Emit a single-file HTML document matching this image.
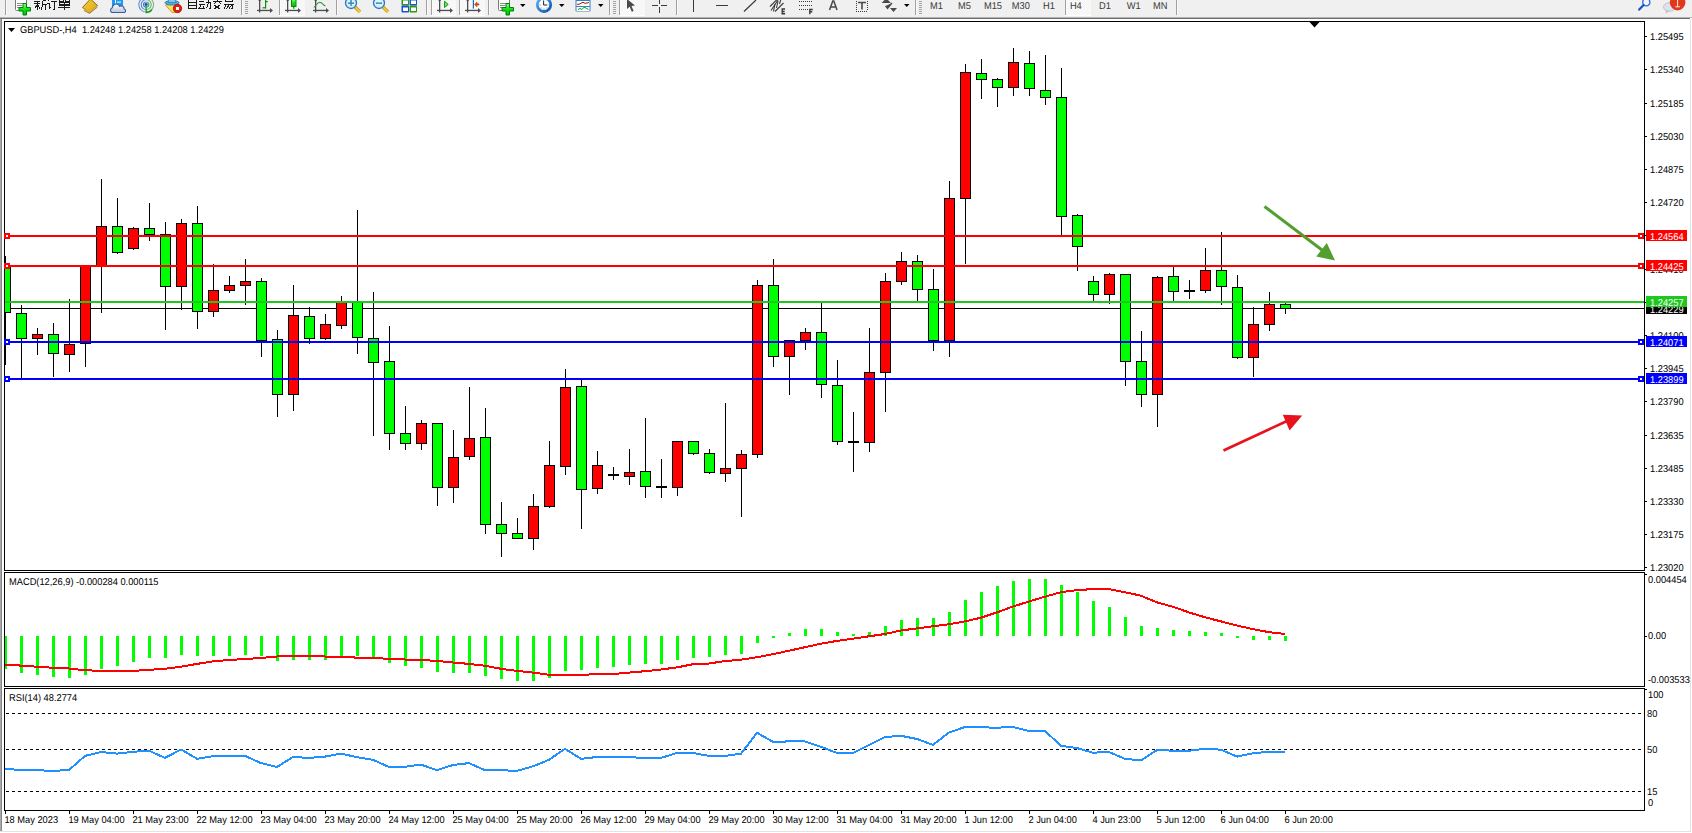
<!DOCTYPE html><html><head><meta charset="utf-8"><style>html,body{margin:0;padding:0;width:1692px;height:833px;overflow:hidden;background:#fff}svg{position:absolute;left:0;top:0;display:block}text{font-family:"Liberation Sans",sans-serif;letter-spacing:0px;text-rendering:geometricPrecision}</style></head><body>
<svg width="1692" height="833" viewBox="0 0 1692 833">
<rect x="0" y="0" width="1692" height="833" fill="#ffffff" shape-rendering="crispEdges"/>
<g shape-rendering="crispEdges">
<rect x="0" y="18" width="1" height="813" fill="#a8a8a8"/>
<rect x="1" y="18" width="1" height="813" fill="#868686"/>
<rect x="1690" y="19" width="1" height="813" fill="#e3e3e3"/>
<rect x="0" y="831" width="1691" height="1" fill="#e3e3e3"/>
</g>
<rect x="0" y="0" width="1692" height="17" fill="#f0f0f0" shape-rendering="crispEdges"/>
<defs><pattern id="chk" width="2" height="2" patternUnits="userSpaceOnUse"><rect width="2" height="2" fill="#f4f4f4"/><rect width="1" height="1" fill="#fbfbfb"/><rect x="1" y="1" width="1" height="1" fill="#fbfbfb"/></pattern><linearGradient id="gplus" x1="0" y1="0" x2="0" y2="1"><stop offset="0" stop-color="#9af79a"/><stop offset="0.5" stop-color="#11e011"/><stop offset="1" stop-color="#00c000"/></linearGradient><linearGradient id="gold" x1="0" y1="0" x2="1" y2="1"><stop offset="0" stop-color="#f5d23a"/><stop offset="1" stop-color="#d9a514"/></linearGradient><linearGradient id="cloud" x1="0" y1="0" x2="0" y2="1"><stop offset="0" stop-color="#ffffff"/><stop offset="1" stop-color="#b8c4dc"/></linearGradient><radialGradient id="lens" cx="0.5" cy="0.5" r="0.5"><stop offset="0" stop-color="#f4fcff"/><stop offset="1" stop-color="#bfe6f8"/></radialGradient></defs>
<g shape-rendering="crispEdges">
<rect x="0" y="17" width="1692" height="1" fill="#b4b4b4"/>
<rect x="0" y="18" width="1690" height="1" fill="#6e6e6e"/>
<rect x="280" y="0" width="25" height="15" fill="url(#chk)"/>
<rect x="279" y="15" width="26" height="1" fill="#ffffff"/>
<rect x="432" y="0" width="24" height="15" fill="url(#chk)"/>
<rect x="431" y="15" width="25" height="1" fill="#ffffff"/>
<rect x="460" y="0" width="25" height="15" fill="url(#chk)"/>
<rect x="459" y="15" width="26" height="1" fill="#ffffff"/>
<rect x="620" y="0" width="25" height="15" fill="url(#chk)"/>
<rect x="619" y="15" width="26" height="1" fill="#ffffff"/>
<rect x="1066" y="0" width="25" height="15" fill="url(#chk)"/>
<rect x="1065" y="15" width="26" height="1" fill="#ffffff"/>
<rect x="5" y="0" width="1" height="15" fill="#a0a0a0"/>
<rect x="6" y="0" width="1" height="15" fill="#fafafa"/>
<rect x="241" y="0" width="1" height="15" fill="#a0a0a0"/>
<rect x="242" y="0" width="1" height="15" fill="#fafafa"/>
<rect x="279" y="0" width="1" height="15" fill="#a0a0a0"/>
<rect x="280" y="0" width="1" height="15" fill="#fafafa"/>
<rect x="336" y="0" width="1" height="15" fill="#a0a0a0"/>
<rect x="337" y="0" width="1" height="15" fill="#fafafa"/>
<rect x="426" y="0" width="1" height="15" fill="#a0a0a0"/>
<rect x="427" y="0" width="1" height="15" fill="#fafafa"/>
<rect x="431" y="0" width="1" height="15" fill="#a0a0a0"/>
<rect x="432" y="0" width="1" height="15" fill="#fafafa"/>
<rect x="459" y="0" width="1" height="15" fill="#a0a0a0"/>
<rect x="460" y="0" width="1" height="15" fill="#fafafa"/>
<rect x="488" y="0" width="1" height="15" fill="#a0a0a0"/>
<rect x="489" y="0" width="1" height="15" fill="#fafafa"/>
<rect x="609" y="0" width="1" height="15" fill="#a0a0a0"/>
<rect x="610" y="0" width="1" height="15" fill="#fafafa"/>
<rect x="619" y="0" width="1" height="15" fill="#a0a0a0"/>
<rect x="620" y="0" width="1" height="15" fill="#fafafa"/>
<rect x="676" y="0" width="1" height="15" fill="#a0a0a0"/>
<rect x="677" y="0" width="1" height="15" fill="#fafafa"/>
<rect x="915" y="0" width="1" height="15" fill="#a0a0a0"/>
<rect x="916" y="0" width="1" height="15" fill="#fafafa"/>
<rect x="1065" y="0" width="1" height="15" fill="#a0a0a0"/>
<rect x="1066" y="0" width="1" height="15" fill="#fafafa"/>
<rect x="1176" y="0" width="1" height="15" fill="#a0a0a0"/>
<rect x="1177" y="0" width="1" height="15" fill="#fafafa"/>
<rect x="245" y="1" width="3" height="1" fill="#a4a4a4"/>
<rect x="245" y="3" width="3" height="1" fill="#a4a4a4"/>
<rect x="245" y="5" width="3" height="1" fill="#a4a4a4"/>
<rect x="245" y="7" width="3" height="1" fill="#a4a4a4"/>
<rect x="245" y="9" width="3" height="1" fill="#a4a4a4"/>
<rect x="245" y="11" width="3" height="1" fill="#a4a4a4"/>
<rect x="245" y="13" width="3" height="1" fill="#a4a4a4"/>
<rect x="613" y="1" width="3" height="1" fill="#a4a4a4"/>
<rect x="613" y="3" width="3" height="1" fill="#a4a4a4"/>
<rect x="613" y="5" width="3" height="1" fill="#a4a4a4"/>
<rect x="613" y="7" width="3" height="1" fill="#a4a4a4"/>
<rect x="613" y="9" width="3" height="1" fill="#a4a4a4"/>
<rect x="613" y="11" width="3" height="1" fill="#a4a4a4"/>
<rect x="613" y="13" width="3" height="1" fill="#a4a4a4"/>
<rect x="919" y="1" width="3" height="1" fill="#a4a4a4"/>
<rect x="919" y="3" width="3" height="1" fill="#a4a4a4"/>
<rect x="919" y="5" width="3" height="1" fill="#a4a4a4"/>
<rect x="919" y="7" width="3" height="1" fill="#a4a4a4"/>
<rect x="919" y="9" width="3" height="1" fill="#a4a4a4"/>
<rect x="919" y="11" width="3" height="1" fill="#a4a4a4"/>
<rect x="919" y="13" width="3" height="1" fill="#a4a4a4"/>
</g>
<rect x="15.5" y="-3.5" width="11" height="14" rx="1" fill="#fff" stroke="#7a7a7a" stroke-width="1"/>
<g stroke="#8a8a8a" stroke-width="1" shape-rendering="crispEdges"><line x1="17" y1="3.5" x2="24" y2="3.5"/><line x1="17" y1="5.5" x2="22" y2="5.5"/><line x1="17" y1="7.5" x2="21" y2="7.5"/></g>
<path d="M23,3.5 h3.5 v4 h4 v3.5 h-4 v4 h-3.5 v-4 h-4 v-3.5 h4 z" fill="url(#gplus)" stroke="#00800a" stroke-width="1"/>
<rect x="498.5" y="-3.5" width="11" height="14" rx="1" fill="#fff" stroke="#7a7a7a" stroke-width="1"/>
<g stroke="#8a8a8a" stroke-width="1" shape-rendering="crispEdges"><line x1="500" y1="3.5" x2="507" y2="3.5"/><line x1="500" y1="5.5" x2="505" y2="5.5"/><line x1="500" y1="7.5" x2="504" y2="7.5"/></g>
<path d="M506,3.5 h3.5 v4 h4 v3.5 h-4 v4 h-3.5 v-4 h-4 v-3.5 h4 z" fill="url(#gplus)" stroke="#00800a" stroke-width="1"/>
<path d="M34,1.5 h6 M34,3.5 h6 M37.5,1 v8.5 M34.5,8.5 l2.5,-3 M40,8.5 l-2,-3 M46,0.5 h-3.5 M42.5,0.5 v5 l-1.5,4 M42.5,4.5 h4 M45.5,4.5 v5" fill="none" stroke="#1a1a1a" stroke-width="1" shape-rendering="crispEdges"/>
<path d="M48,0.5 h1 M47,3.5 h2.5 v5 l1,-1 M51,1.5 h6 M54.5,1.5 v7.5 h-1.5" fill="none" stroke="#1a1a1a" stroke-width="1" shape-rendering="crispEdges"/>
<path d="M59.5,-0.5 h4 v2 h-4 z M65.5,-0.5 h3.5 v2 h-3.5 z M59.5,2.5 h10 v3 h-10 z M59.5,4 h10 M58,7.5 h12 M64.5,2.5 v7" fill="none" stroke="#1a1a1a" stroke-width="1" shape-rendering="crispEdges"/>
<path d="M188.5,0 v9 M196.5,0 v9 M188.5,2.5 h8 M188.5,5.5 h8 M188.5,8.5 h8 M188.5,-0.5 h8" fill="none" stroke="#1a1a1a" stroke-width="1" shape-rendering="crispEdges"/>
<path d="M199,1.5 h5 M198.5,4.5 h6 M201.5,4.5 l-2.5,4 h5 l-1,-2 M206,2.5 h4.5 v5.5 l-1,1 M208.5,0 v3 l-2,5.5" fill="none" stroke="#1a1a1a" stroke-width="1" shape-rendering="crispEdges"/>
<path d="M217.5,-0.5 v1 M213,1.5 h9 M215.5,2.5 l-2,2 M219.5,2.5 l2,2 M214,5 l6,4 M220,5 l-6,4" fill="none" stroke="#1a1a1a" stroke-width="1" shape-rendering="crispEdges"/>
<path d="M225.5,-0.5 h7 v2 h-7 z M224,4.5 h9 l-1,4 h-1.5 M226.5,4.5 l-2.5,4 M229,5 l-2.5,4 M231.5,5 l-2.5,3.5" fill="none" stroke="#1a1a1a" stroke-width="1" shape-rendering="crispEdges"/>
<path d="M82.5,7.5 L90.5,-1 L97.5,5.5 L89.5,12.8 Z" fill="url(#gold)" stroke="#9a6408" stroke-width="1"/>
<path d="M83.5,9 L89.5,12.5 L97,6.5" fill="none" stroke="#d8c070" stroke-width="1"/>
<path d="M84,10.5 L89.5,13.3 L97.5,7" fill="none" stroke="#a07010" stroke-width="0.9"/>
<rect x="112" y="-2" width="11" height="8" fill="#1a9af0"/><rect x="115" y="-2" width="1" height="8" fill="#fff"/><rect x="117" y="1.5" width="4" height="1.2" fill="#d8f0ff"/>
<path d="M111.8,12.5 A2.6,2.6 0 0 1 112.3,7.8 A3.8,3.8 0 0 1 119.6,6.4 A3,3 0 0 1 124.2,9 A1.9,1.9 0 0 1 124.6,12.5 Z" fill="url(#cloud)" stroke="#3e5c96" stroke-width="1.1"/>
<defs><linearGradient id="sig" x1="0" y1="0" x2="1" y2="0"><stop offset="0" stop-color="#2a6ad0"/><stop offset="0.55" stop-color="#7aa8d8"/><stop offset="1" stop-color="#4aa84a"/></linearGradient></defs>
<circle cx="146.2" cy="4.6" r="2.6" fill="none" stroke="url(#sig)" stroke-width="1.1" opacity="1"/>
<circle cx="146.2" cy="4.6" r="5.0" fill="none" stroke="url(#sig)" stroke-width="1.1" opacity="0.85"/>
<circle cx="146.2" cy="4.6" r="7.4" fill="none" stroke="url(#sig)" stroke-width="1.1" opacity="0.75"/>
<circle cx="146.2" cy="4.4" r="1.6" fill="#1a5ad0"/><path d="M146.2,5 V12.5 A7.4,7.4 0 0 0 152,9.5" fill="none" stroke="#18a018" stroke-width="1.3"/>
<path d="M165.5,5 L178,4 L178,12 L172,12.5 Z" fill="#f8e060" stroke="#d0a020" stroke-width="1"/>
<ellipse cx="172" cy="2.8" rx="7" ry="2.2" fill="#58b0e0" stroke="#2a80b8" stroke-width="1"/><path d="M168,2.5 A4,4 0 0 1 176,2.5 Z" fill="#80c8f0" stroke="#2a80b8" stroke-width="0.8"/>
<circle cx="177.5" cy="8.5" r="4.2" fill="#e02010" stroke="#b01000" stroke-width="0.8"/><rect x="176" y="7" width="3" height="3" fill="#fff"/>
<g fill="#4d4d4d"><rect x="259" y="-1" width="1.3" height="13.5"/><rect x="257" y="9.8" width="13" height="1.3"/><path d="M270,8 L273,10.45 L270,13 Z"/><circle cx="259.65" cy="0" r="1.2"/></g>
<g fill="#108a10"><rect x="265" y="-1" width="1.2" height="9.5"/><rect x="262.5" y="7.2" width="3" height="1.2"/><rect x="265" y="1" width="2.8" height="1.2"/></g>
<g fill="#4d4d4d"><rect x="287" y="-1" width="1.3" height="13.5"/><rect x="285" y="9.8" width="13" height="1.3"/><path d="M298,8 L301,10.45 L298,13 Z"/><circle cx="287.65" cy="0" r="1.2"/></g>
<rect x="291.5" y="-1" width="4.5" height="7.5" fill="url(#gplus)" stroke="#0a8a0a" stroke-width="1"/><rect x="293.2" y="6.5" width="1.2" height="2.3" fill="#0a8a0a"/>
<g fill="#4d4d4d"><rect x="315" y="-1" width="1.3" height="13.5"/><rect x="313" y="9.8" width="13" height="1.3"/><path d="M326,8 L329,10.45 L326,13 Z"/><circle cx="315.65" cy="0" r="1.2"/></g>
<path d="M314,7.5 C316,5 318,2 320,2.2 C322,2.5 323.5,5.5 325.5,6" fill="none" stroke="#2a9a2a" stroke-width="1.1"/>
<line x1="354.5" y1="6.5" x2="360" y2="11.8" stroke="#c89010" stroke-width="3.2"/>
<line x1="354.5" y1="6.5" x2="360" y2="11.8" stroke="#f0d840" stroke-width="1.6"/>
<circle cx="351" cy="3" r="5.5" fill="url(#lens)" stroke="#2a78c0" stroke-width="1.3"/>
<rect x="348" y="2.4" width="6" height="1.5" fill="#3a88b8"/>
<rect x="350.3" y="0" width="1.5" height="6" fill="#3a88b8"/>
<line x1="382.5" y1="6.5" x2="388" y2="11.8" stroke="#c89010" stroke-width="3.2"/>
<line x1="382.5" y1="6.5" x2="388" y2="11.8" stroke="#f0d840" stroke-width="1.6"/>
<circle cx="379" cy="3" r="5.5" fill="url(#lens)" stroke="#2a78c0" stroke-width="1.3"/>
<rect x="376" y="2.4" width="6" height="1.5" fill="#3a88b8"/>
<rect x="401.5" y="-1.5" width="7.5" height="7" rx="0.8" fill="#2a9a10"/>
<rect x="403" y="0.5" width="5" height="3.5" fill="#fff"/>
<rect x="409.5" y="-1.5" width="7.5" height="7" rx="0.8" fill="#1a50d8"/>
<rect x="411" y="0.5" width="5" height="3.5" fill="#fff"/>
<rect x="401.5" y="5.5" width="7.5" height="7" rx="0.8" fill="#1a50d8"/>
<rect x="403" y="7.5" width="5" height="3.5" fill="#fff"/>
<rect x="409.5" y="5.5" width="7.5" height="7" rx="0.8" fill="#2a9a10"/>
<rect x="411" y="7.5" width="5" height="3.5" fill="#fff"/>
<g fill="#4d4d4d"><rect x="439" y="-1" width="1.3" height="13.5"/><rect x="437" y="9.8" width="13" height="1.3"/><path d="M450,8 L453,10.45 L450,13 Z"/><circle cx="439.65" cy="0" r="1.2"/></g>
<path d="M444.5,1.2 L448.2,4.4 L444.5,7.5 Z" fill="#60e060" stroke="#10a010" stroke-width="1"/>
<g fill="#4d4d4d"><rect x="467" y="-1" width="1.3" height="13.5"/><rect x="465" y="9.8" width="13" height="1.3"/><path d="M478,8 L481,10.45 L478,13 Z"/><circle cx="467.65" cy="0" r="1.2"/></g>
<rect x="472.8" y="-1" width="1.2" height="9.6" fill="#1a6ab0"/><path d="M474.5,4.4 L477,2 L477,3.8 L479,3.8 L479,5 L477,5 L477,6.8 Z" fill="#e05010" stroke="#a03000" stroke-width="0.5"/>
<path d="M520,4 L525.5,4 L522.75,7 Z" fill="#000"/>
<path d="M559,4 L564.5,4 L561.75,7 Z" fill="#000"/>
<path d="M598,4 L603.5,4 L600.75,7 Z" fill="#000"/>
<path d="M904,4 L909.5,4 L906.75,7 Z" fill="#000"/>
<defs><linearGradient id="clk" x1="0" y1="0" x2="1" y2="1"><stop offset="0" stop-color="#5ab4ff"/><stop offset="1" stop-color="#0a50b0"/></linearGradient></defs><circle cx="544" cy="4.8" r="6.7" fill="#fbfbfb" stroke="url(#clk)" stroke-width="2.8"/><g fill="#888"><rect x="539.5" y="4.5" width="1" height="1"/><rect x="547.5" y="4.5" width="1" height="1"/><rect x="543.5" y="8.5" width="1" height="1"/><rect x="540.5" y="7.5" width="1" height="1"/><rect x="546.5" y="7.5" width="1" height="1"/></g>
<path d="M543.6,0.5 V5 H547" fill="none" stroke="#222" stroke-width="1"/>
<rect x="575.5" y="-1.5" width="15" height="13" rx="1" fill="#3a80c8"/><rect x="576.5" y="1" width="13" height="5" fill="#fff"/><rect x="576.5" y="7" width="13" height="4" fill="#fff"/>
<path d="M577,4.3 L579,4.3 L581,3.2 L583,2.2 L585,3.4 L587,3 L589,2.5" fill="none" stroke="#a02000" stroke-width="1"/>
<path d="M578,9.5 L580,8.5 L582,9.5 L584,7.2 L586,8 L588.5,9.5" fill="none" stroke="#10a010" stroke-width="1"/>
<path d="M627,-1 L627,9 L629.7,6.7 L631.8,11.8 L633.6,11 L631.5,6 L635,5.6 Z" fill="#4a4a4a"/>
<g fill="#3a3a3a" shape-rendering="crispEdges"><rect x="659" y="0" width="1" height="4"/><rect x="659" y="7" width="1" height="6"/><rect x="652" y="5" width="6" height="1"/><rect x="661" y="5" width="6" height="1"/></g>
<g fill="#3a3a3a" shape-rendering="crispEdges"><rect x="693" y="0" width="1.4" height="12"/><rect x="716" y="4.8" width="12" height="1.4"/></g>
<line x1="744" y1="11.5" x2="756" y2="0" stroke="#3a3a3a" stroke-width="1.2"/>
<g stroke="#3a3a3a" stroke-width="1.1" fill="none"><line x1="770" y1="6.5" x2="777" y2="-0.5"/><line x1="775" y1="11.5" x2="783.5" y2="3"/><line x1="771" y1="10.5" x2="778" y2="0"/><line x1="773.5" y1="11.5" x2="775" y2="4"/><line x1="776.5" y1="8" x2="778" y2="1"/><line x1="779.5" y1="4" x2="781" y2="-1"/></g>
<path d="M781.5,9 h3.6 M781.5,11.5 h3.2 M781.5,13.8 h3.6 M782.2,9 v5" fill="none" stroke="#3a3a3a" stroke-width="1.4"/>
<g fill="#3a3a3a"><rect x="799" y="1" width="1" height="1"/><rect x="801" y="1" width="1" height="1"/><rect x="803" y="1" width="1" height="1"/><rect x="805" y="1" width="1" height="1"/><rect x="807" y="1" width="1" height="1"/><rect x="809" y="1" width="1" height="1"/><rect x="811" y="1" width="1" height="1"/><rect x="799" y="5" width="1" height="1"/><rect x="801" y="5" width="1" height="1"/><rect x="803" y="5" width="1" height="1"/><rect x="805" y="5" width="1" height="1"/><rect x="807" y="5" width="1" height="1"/><rect x="809" y="5" width="1" height="1"/><rect x="811" y="5" width="1" height="1"/><rect x="799" y="9" width="1" height="1"/><rect x="801" y="9" width="1" height="1"/><rect x="803" y="9" width="1" height="1"/><rect x="805" y="9" width="1" height="1"/><rect x="807" y="9" width="1" height="1"/></g>
<path d="M809.8,9 v5.2 M809.2,9.5 h3.6 M809.2,11.8 h3" fill="none" stroke="#3a3a3a" stroke-width="1.4"/>
<path d="M829.5,10 L832.8,1 L833.8,1 L837,10 M831,7 h5" fill="none" stroke="#4a4a4a" stroke-width="1.5"/>
<g fill="#3a3a3a"><rect x="856" y="11" width="1" height="1"/><rect x="858" y="11" width="1" height="1"/><rect x="860" y="11" width="1" height="1"/><rect x="862" y="11" width="1" height="1"/><rect x="864" y="11" width="1" height="1"/><rect x="866" y="11" width="1" height="1"/><rect x="856" y="1" width="1" height="1"/><rect x="867" y="1" width="1" height="1"/><rect x="856" y="3" width="1" height="1"/><rect x="867" y="3" width="1" height="1"/><rect x="856" y="5" width="1" height="1"/><rect x="867" y="5" width="1" height="1"/><rect x="856" y="7" width="1" height="1"/><rect x="867" y="7" width="1" height="1"/><rect x="856" y="9" width="1" height="1"/><rect x="867" y="9" width="1" height="1"/></g>
<path d="M858,2.5 h8 M862,2.5 v7" fill="none" stroke="#4a4a4a" stroke-width="1.6"/>
<path d="M883,2.5 L886.3,-1 L889.5,2.5 Z M885.5,6 L887.5,8.5 L892,3" fill="#4a4a4a" stroke="#4a4a4a" stroke-width="1.2"/>
<path d="M890,8 L897,8 L893.5,12 Z" fill="#4a4a4a"/>
<text transform="matrix(0.94,0,0,1,929.9,8.5)" fill="#3a3a3a" font-size="9.9">M1</text>
<text transform="matrix(0.94,0,0,1,957.9,8.5)" fill="#3a3a3a" font-size="9.9">M5</text>
<text transform="matrix(0.94,0,0,1,983.9,8.5)" fill="#3a3a3a" font-size="9.9">M15</text>
<text transform="matrix(0.94,0,0,1,1011.8,8.5)" fill="#3a3a3a" font-size="9.9">M30</text>
<text transform="matrix(0.94,0,0,1,1043.0,8.5)" fill="#3a3a3a" font-size="9.9">H1</text>
<text transform="matrix(0.94,0,0,1,1069.8999999999999,8.5)" fill="#3a3a3a" font-size="9.9">H4</text>
<text transform="matrix(0.94,0,0,1,1099.0,8.5)" fill="#3a3a3a" font-size="9.9">D1</text>
<text transform="matrix(0.94,0,0,1,1126.7,8.5)" fill="#3a3a3a" font-size="9.9">W1</text>
<text transform="matrix(0.94,0,0,1,1153.0,8.5)" fill="#3a3a3a" font-size="9.9">MN</text>
<circle cx="1646.3" cy="2.2" r="3.6" fill="#f4f6ff" stroke="#2a6ad8" stroke-width="1.3"/><line x1="1643.6" y1="5" x2="1639.2" y2="9.6" stroke="#1a50c0" stroke-width="2.2" stroke-linecap="round"/>
<ellipse cx="1669.5" cy="7" rx="6" ry="4.3" fill="#dfe2ec" stroke="#bdbdbd" stroke-width="0.9"/><path d="M1665.5,10 L1666,13.8 L1669.5,10.8 Z" fill="#c4c4c4"/>
<circle cx="1677.6" cy="2.6" r="7.8" fill="#e0381a"/><path d="M1675.6,-2 h4 M1677.6,-2 v8.6 M1675.3,6.8 h4.6" fill="none" stroke="#fff" stroke-width="0.9"/>
<g shape-rendering="crispEdges" fill="none" stroke="#000" stroke-width="1">
<rect x="4.5" y="21.5" width="1640" height="549"/>
<rect x="4.5" y="572.5" width="1640" height="114"/>
<rect x="4.5" y="688.5" width="1640" height="122"/>
</g>
<g shape-rendering="crispEdges">
<rect x="1645" y="36" width="2" height="1" fill="#000"/>
<rect x="1645" y="69" width="2" height="1" fill="#000"/>
<rect x="1645" y="103" width="2" height="1" fill="#000"/>
<rect x="1645" y="136" width="2" height="1" fill="#000"/>
<rect x="1645" y="169" width="2" height="1" fill="#000"/>
<rect x="1645" y="202" width="2" height="1" fill="#000"/>
<rect x="1645" y="235" width="2" height="1" fill="#000"/>
<rect x="1645" y="269" width="2" height="1" fill="#000"/>
<rect x="1645" y="302" width="2" height="1" fill="#000"/>
<rect x="1645" y="335" width="2" height="1" fill="#000"/>
<rect x="1645" y="368" width="2" height="1" fill="#000"/>
<rect x="1645" y="401" width="2" height="1" fill="#000"/>
<rect x="1645" y="435" width="2" height="1" fill="#000"/>
<rect x="1645" y="468" width="2" height="1" fill="#000"/>
<rect x="1645" y="501" width="2" height="1" fill="#000"/>
<rect x="1645" y="534" width="2" height="1" fill="#000"/>
<rect x="1645" y="567" width="2" height="1" fill="#000"/>
</g>
<text transform="matrix(0.94,0,0,1,1650,40)" fill="#000" font-size="9.9">1.25495</text>
<text transform="matrix(0.94,0,0,1,1650,73)" fill="#000" font-size="9.9">1.25340</text>
<text transform="matrix(0.94,0,0,1,1650,107)" fill="#000" font-size="9.9">1.25185</text>
<text transform="matrix(0.94,0,0,1,1650,140)" fill="#000" font-size="9.9">1.25030</text>
<text transform="matrix(0.94,0,0,1,1650,173)" fill="#000" font-size="9.9">1.24875</text>
<text transform="matrix(0.94,0,0,1,1650,206)" fill="#000" font-size="9.9">1.24720</text>
<text transform="matrix(0.94,0,0,1,1650,239)" fill="#000" font-size="9.9">1.24565</text>
<text transform="matrix(0.94,0,0,1,1650,273)" fill="#000" font-size="9.9">1.24410</text>
<text transform="matrix(0.94,0,0,1,1650,306)" fill="#000" font-size="9.9">1.24255</text>
<text transform="matrix(0.94,0,0,1,1650,339)" fill="#000" font-size="9.9">1.24100</text>
<text transform="matrix(0.94,0,0,1,1650,372)" fill="#000" font-size="9.9">1.23945</text>
<text transform="matrix(0.94,0,0,1,1650,405)" fill="#000" font-size="9.9">1.23790</text>
<text transform="matrix(0.94,0,0,1,1650,439)" fill="#000" font-size="9.9">1.23635</text>
<text transform="matrix(0.94,0,0,1,1650,472)" fill="#000" font-size="9.9">1.23485</text>
<text transform="matrix(0.94,0,0,1,1650,505)" fill="#000" font-size="9.9">1.23330</text>
<text transform="matrix(0.94,0,0,1,1650,538)" fill="#000" font-size="9.9">1.23175</text>
<text transform="matrix(0.94,0,0,1,1650,571)" fill="#000" font-size="9.9">1.23020</text>
<g shape-rendering="crispEdges">
<rect x="5" y="308" width="1639" height="1" fill="#000"/>
</g>
<g shape-rendering="crispEdges">
<rect x="5" y="256" width="1" height="109" fill="#000"/>
<rect x="5" y="267" width="6" height="46" fill="#000"/>
<rect x="5" y="268" width="5" height="44" fill="#00ff00"/>
<rect x="21" y="305" width="1" height="73" fill="#000"/>
<rect x="16" y="313" width="11" height="26" fill="#000"/>
<rect x="17" y="314" width="9" height="24" fill="#00ff00"/>
<rect x="37" y="328" width="1" height="27" fill="#000"/>
<rect x="32" y="334" width="11" height="5" fill="#000"/>
<rect x="33" y="335" width="9" height="3" fill="#ff0000"/>
<rect x="53" y="323" width="1" height="54" fill="#000"/>
<rect x="48" y="334" width="11" height="20" fill="#000"/>
<rect x="49" y="335" width="9" height="18" fill="#00ff00"/>
<rect x="69" y="299" width="1" height="73" fill="#000"/>
<rect x="64" y="344" width="11" height="11" fill="#000"/>
<rect x="65" y="345" width="9" height="9" fill="#ff0000"/>
<rect x="85" y="266" width="1" height="101" fill="#000"/>
<rect x="80" y="266" width="11" height="78" fill="#000"/>
<rect x="81" y="267" width="9" height="76" fill="#ff0000"/>
<rect x="101" y="179" width="1" height="134" fill="#000"/>
<rect x="96" y="226" width="11" height="40" fill="#000"/>
<rect x="97" y="227" width="9" height="38" fill="#ff0000"/>
<rect x="117" y="198" width="1" height="56" fill="#000"/>
<rect x="112" y="226" width="11" height="27" fill="#000"/>
<rect x="113" y="227" width="9" height="25" fill="#00ff00"/>
<rect x="133" y="227" width="1" height="23" fill="#000"/>
<rect x="128" y="228" width="11" height="21" fill="#000"/>
<rect x="129" y="229" width="9" height="19" fill="#ff0000"/>
<rect x="149" y="203" width="1" height="38" fill="#000"/>
<rect x="144" y="228" width="11" height="7" fill="#000"/>
<rect x="145" y="229" width="9" height="5" fill="#00ff00"/>
<rect x="165" y="222" width="1" height="108" fill="#000"/>
<rect x="160" y="234" width="11" height="53" fill="#000"/>
<rect x="161" y="235" width="9" height="51" fill="#00ff00"/>
<rect x="181" y="219" width="1" height="91" fill="#000"/>
<rect x="176" y="223" width="11" height="64" fill="#000"/>
<rect x="177" y="224" width="9" height="62" fill="#ff0000"/>
<rect x="197" y="206" width="1" height="123" fill="#000"/>
<rect x="192" y="223" width="11" height="89" fill="#000"/>
<rect x="193" y="224" width="9" height="87" fill="#00ff00"/>
<rect x="213" y="264" width="1" height="53" fill="#000"/>
<rect x="208" y="290" width="11" height="22" fill="#000"/>
<rect x="209" y="291" width="9" height="20" fill="#ff0000"/>
<rect x="229" y="276" width="1" height="17" fill="#000"/>
<rect x="224" y="285" width="11" height="6" fill="#000"/>
<rect x="225" y="286" width="9" height="4" fill="#ff0000"/>
<rect x="245" y="259" width="1" height="46" fill="#000"/>
<rect x="240" y="281" width="11" height="5" fill="#000"/>
<rect x="241" y="282" width="9" height="3" fill="#ff0000"/>
<rect x="261" y="278" width="1" height="79" fill="#000"/>
<rect x="256" y="281" width="11" height="60" fill="#000"/>
<rect x="257" y="282" width="9" height="58" fill="#00ff00"/>
<rect x="277" y="330" width="1" height="87" fill="#000"/>
<rect x="272" y="339" width="11" height="56" fill="#000"/>
<rect x="273" y="340" width="9" height="54" fill="#00ff00"/>
<rect x="293" y="285" width="1" height="126" fill="#000"/>
<rect x="288" y="315" width="11" height="80" fill="#000"/>
<rect x="289" y="316" width="9" height="78" fill="#ff0000"/>
<rect x="309" y="307" width="1" height="37" fill="#000"/>
<rect x="304" y="316" width="11" height="23" fill="#000"/>
<rect x="305" y="317" width="9" height="21" fill="#00ff00"/>
<rect x="325" y="314" width="1" height="26" fill="#000"/>
<rect x="320" y="324" width="11" height="15" fill="#000"/>
<rect x="321" y="325" width="9" height="13" fill="#ff0000"/>
<rect x="341" y="296" width="1" height="33" fill="#000"/>
<rect x="336" y="302" width="11" height="24" fill="#000"/>
<rect x="337" y="303" width="9" height="22" fill="#ff0000"/>
<rect x="357" y="210" width="1" height="144" fill="#000"/>
<rect x="352" y="302" width="11" height="36" fill="#000"/>
<rect x="353" y="303" width="9" height="34" fill="#00ff00"/>
<rect x="373" y="292" width="1" height="144" fill="#000"/>
<rect x="368" y="338" width="11" height="25" fill="#000"/>
<rect x="369" y="339" width="9" height="23" fill="#00ff00"/>
<rect x="389" y="326" width="1" height="124" fill="#000"/>
<rect x="384" y="361" width="11" height="73" fill="#000"/>
<rect x="385" y="362" width="9" height="71" fill="#00ff00"/>
<rect x="405" y="406" width="1" height="44" fill="#000"/>
<rect x="400" y="433" width="11" height="11" fill="#000"/>
<rect x="401" y="434" width="9" height="9" fill="#00ff00"/>
<rect x="421" y="420" width="1" height="30" fill="#000"/>
<rect x="416" y="423" width="11" height="21" fill="#000"/>
<rect x="417" y="424" width="9" height="19" fill="#ff0000"/>
<rect x="437" y="423" width="1" height="83" fill="#000"/>
<rect x="432" y="423" width="11" height="65" fill="#000"/>
<rect x="433" y="424" width="9" height="63" fill="#00ff00"/>
<rect x="453" y="430" width="1" height="73" fill="#000"/>
<rect x="448" y="457" width="11" height="31" fill="#000"/>
<rect x="449" y="458" width="9" height="29" fill="#ff0000"/>
<rect x="469" y="387" width="1" height="73" fill="#000"/>
<rect x="464" y="438" width="11" height="19" fill="#000"/>
<rect x="465" y="439" width="9" height="17" fill="#ff0000"/>
<rect x="485" y="408" width="1" height="126" fill="#000"/>
<rect x="480" y="437" width="11" height="88" fill="#000"/>
<rect x="481" y="438" width="9" height="86" fill="#00ff00"/>
<rect x="501" y="502" width="1" height="55" fill="#000"/>
<rect x="496" y="524" width="11" height="10" fill="#000"/>
<rect x="497" y="525" width="9" height="8" fill="#00ff00"/>
<rect x="517" y="518" width="1" height="21" fill="#000"/>
<rect x="512" y="533" width="11" height="6" fill="#000"/>
<rect x="513" y="534" width="9" height="4" fill="#00ff00"/>
<rect x="533" y="494" width="1" height="56" fill="#000"/>
<rect x="528" y="506" width="11" height="33" fill="#000"/>
<rect x="529" y="507" width="9" height="31" fill="#ff0000"/>
<rect x="549" y="441" width="1" height="67" fill="#000"/>
<rect x="544" y="465" width="11" height="42" fill="#000"/>
<rect x="545" y="466" width="9" height="40" fill="#ff0000"/>
<rect x="565" y="369" width="1" height="106" fill="#000"/>
<rect x="560" y="387" width="11" height="80" fill="#000"/>
<rect x="561" y="388" width="9" height="78" fill="#ff0000"/>
<rect x="581" y="380" width="1" height="149" fill="#000"/>
<rect x="576" y="386" width="11" height="104" fill="#000"/>
<rect x="577" y="387" width="9" height="102" fill="#00ff00"/>
<rect x="597" y="451" width="1" height="43" fill="#000"/>
<rect x="592" y="465" width="11" height="24" fill="#000"/>
<rect x="593" y="466" width="9" height="22" fill="#ff0000"/>
<rect x="613" y="467" width="1" height="13" fill="#000"/>
<rect x="608" y="474" width="11" height="2" fill="#000"/>
<rect x="629" y="449" width="1" height="36" fill="#000"/>
<rect x="624" y="472" width="11" height="5" fill="#000"/>
<rect x="625" y="473" width="9" height="3" fill="#ff0000"/>
<rect x="645" y="418" width="1" height="80" fill="#000"/>
<rect x="640" y="471" width="11" height="16" fill="#000"/>
<rect x="641" y="472" width="9" height="14" fill="#00ff00"/>
<rect x="661" y="459" width="1" height="39" fill="#000"/>
<rect x="656" y="486" width="11" height="2" fill="#000"/>
<rect x="677" y="441" width="1" height="55" fill="#000"/>
<rect x="672" y="441" width="11" height="47" fill="#000"/>
<rect x="673" y="442" width="9" height="45" fill="#ff0000"/>
<rect x="693" y="441" width="1" height="14" fill="#000"/>
<rect x="688" y="441" width="11" height="13" fill="#000"/>
<rect x="689" y="442" width="9" height="11" fill="#00ff00"/>
<rect x="709" y="449" width="1" height="25" fill="#000"/>
<rect x="704" y="453" width="11" height="20" fill="#000"/>
<rect x="705" y="454" width="9" height="18" fill="#00ff00"/>
<rect x="725" y="403" width="1" height="79" fill="#000"/>
<rect x="720" y="468" width="11" height="6" fill="#000"/>
<rect x="721" y="469" width="9" height="4" fill="#ff0000"/>
<rect x="741" y="450" width="1" height="67" fill="#000"/>
<rect x="736" y="454" width="11" height="15" fill="#000"/>
<rect x="737" y="455" width="9" height="13" fill="#ff0000"/>
<rect x="757" y="280" width="1" height="178" fill="#000"/>
<rect x="752" y="285" width="11" height="170" fill="#000"/>
<rect x="753" y="286" width="9" height="168" fill="#ff0000"/>
<rect x="773" y="259" width="1" height="108" fill="#000"/>
<rect x="768" y="285" width="11" height="72" fill="#000"/>
<rect x="769" y="286" width="9" height="70" fill="#00ff00"/>
<rect x="789" y="340" width="1" height="55" fill="#000"/>
<rect x="784" y="340" width="11" height="17" fill="#000"/>
<rect x="785" y="341" width="9" height="15" fill="#ff0000"/>
<rect x="805" y="328" width="1" height="22" fill="#000"/>
<rect x="800" y="332" width="11" height="9" fill="#000"/>
<rect x="801" y="333" width="9" height="7" fill="#ff0000"/>
<rect x="821" y="302" width="1" height="96" fill="#000"/>
<rect x="816" y="332" width="11" height="53" fill="#000"/>
<rect x="817" y="333" width="9" height="51" fill="#00ff00"/>
<rect x="837" y="360" width="1" height="85" fill="#000"/>
<rect x="832" y="385" width="11" height="57" fill="#000"/>
<rect x="833" y="386" width="9" height="55" fill="#00ff00"/>
<rect x="853" y="412" width="1" height="60" fill="#000"/>
<rect x="848" y="441" width="11" height="2" fill="#000"/>
<rect x="869" y="328" width="1" height="124" fill="#000"/>
<rect x="864" y="372" width="11" height="71" fill="#000"/>
<rect x="865" y="373" width="9" height="69" fill="#ff0000"/>
<rect x="885" y="273" width="1" height="139" fill="#000"/>
<rect x="880" y="281" width="11" height="92" fill="#000"/>
<rect x="881" y="282" width="9" height="90" fill="#ff0000"/>
<rect x="901" y="252" width="1" height="33" fill="#000"/>
<rect x="896" y="261" width="11" height="21" fill="#000"/>
<rect x="897" y="262" width="9" height="19" fill="#ff0000"/>
<rect x="917" y="255" width="1" height="46" fill="#000"/>
<rect x="912" y="261" width="11" height="29" fill="#000"/>
<rect x="913" y="262" width="9" height="27" fill="#00ff00"/>
<rect x="933" y="269" width="1" height="82" fill="#000"/>
<rect x="928" y="289" width="11" height="52" fill="#000"/>
<rect x="929" y="290" width="9" height="50" fill="#00ff00"/>
<rect x="949" y="181" width="1" height="176" fill="#000"/>
<rect x="944" y="198" width="11" height="143" fill="#000"/>
<rect x="945" y="199" width="9" height="141" fill="#ff0000"/>
<rect x="965" y="64" width="1" height="200" fill="#000"/>
<rect x="960" y="72" width="11" height="127" fill="#000"/>
<rect x="961" y="73" width="9" height="125" fill="#ff0000"/>
<rect x="981" y="59" width="1" height="40" fill="#000"/>
<rect x="976" y="73" width="11" height="7" fill="#000"/>
<rect x="977" y="74" width="9" height="5" fill="#00ff00"/>
<rect x="997" y="78" width="1" height="29" fill="#000"/>
<rect x="992" y="79" width="11" height="9" fill="#000"/>
<rect x="993" y="80" width="9" height="7" fill="#00ff00"/>
<rect x="1013" y="48" width="1" height="48" fill="#000"/>
<rect x="1008" y="62" width="11" height="26" fill="#000"/>
<rect x="1009" y="63" width="9" height="24" fill="#ff0000"/>
<rect x="1029" y="51" width="1" height="45" fill="#000"/>
<rect x="1024" y="63" width="11" height="26" fill="#000"/>
<rect x="1025" y="64" width="9" height="24" fill="#00ff00"/>
<rect x="1045" y="55" width="1" height="50" fill="#000"/>
<rect x="1040" y="90" width="11" height="8" fill="#000"/>
<rect x="1041" y="91" width="9" height="6" fill="#00ff00"/>
<rect x="1061" y="68" width="1" height="167" fill="#000"/>
<rect x="1056" y="97" width="11" height="120" fill="#000"/>
<rect x="1057" y="98" width="9" height="118" fill="#00ff00"/>
<rect x="1077" y="214" width="1" height="57" fill="#000"/>
<rect x="1072" y="215" width="11" height="32" fill="#000"/>
<rect x="1073" y="216" width="9" height="30" fill="#00ff00"/>
<rect x="1093" y="276" width="1" height="25" fill="#000"/>
<rect x="1088" y="281" width="11" height="14" fill="#000"/>
<rect x="1089" y="282" width="9" height="12" fill="#00ff00"/>
<rect x="1109" y="273" width="1" height="31" fill="#000"/>
<rect x="1104" y="274" width="11" height="21" fill="#000"/>
<rect x="1105" y="275" width="9" height="19" fill="#ff0000"/>
<rect x="1125" y="274" width="1" height="112" fill="#000"/>
<rect x="1120" y="274" width="11" height="88" fill="#000"/>
<rect x="1121" y="275" width="9" height="86" fill="#00ff00"/>
<rect x="1141" y="331" width="1" height="76" fill="#000"/>
<rect x="1136" y="361" width="11" height="34" fill="#000"/>
<rect x="1137" y="362" width="9" height="32" fill="#00ff00"/>
<rect x="1157" y="276" width="1" height="151" fill="#000"/>
<rect x="1152" y="277" width="11" height="118" fill="#000"/>
<rect x="1153" y="278" width="9" height="116" fill="#ff0000"/>
<rect x="1173" y="267" width="1" height="34" fill="#000"/>
<rect x="1168" y="276" width="11" height="16" fill="#000"/>
<rect x="1169" y="277" width="9" height="14" fill="#00ff00"/>
<rect x="1189" y="280" width="1" height="19" fill="#000"/>
<rect x="1184" y="290" width="11" height="2" fill="#000"/>
<rect x="1205" y="248" width="1" height="45" fill="#000"/>
<rect x="1200" y="270" width="11" height="21" fill="#000"/>
<rect x="1201" y="271" width="9" height="19" fill="#ff0000"/>
<rect x="1221" y="232" width="1" height="73" fill="#000"/>
<rect x="1216" y="270" width="11" height="17" fill="#000"/>
<rect x="1217" y="271" width="9" height="15" fill="#00ff00"/>
<rect x="1237" y="275" width="1" height="84" fill="#000"/>
<rect x="1232" y="287" width="11" height="71" fill="#000"/>
<rect x="1233" y="288" width="9" height="69" fill="#00ff00"/>
<rect x="1253" y="307" width="1" height="70" fill="#000"/>
<rect x="1248" y="324" width="11" height="34" fill="#000"/>
<rect x="1249" y="325" width="9" height="32" fill="#ff0000"/>
<rect x="1269" y="292" width="1" height="39" fill="#000"/>
<rect x="1264" y="304" width="11" height="21" fill="#000"/>
<rect x="1265" y="305" width="9" height="19" fill="#ff0000"/>
<rect x="1285" y="303" width="1" height="11" fill="#000"/>
<rect x="1280" y="304" width="11" height="5" fill="#000"/>
<rect x="1281" y="305" width="9" height="3" fill="#00ff00"/>
</g>
<g shape-rendering="crispEdges">
<rect x="5" y="235" width="1639" height="2" fill="#ff0000"/>
<rect x="4" y="233" width="6" height="6" fill="#ff0000"/>
<rect x="6" y="235" width="2" height="2" fill="#fff"/>
<rect x="1638" y="233" width="6" height="6" fill="#ff0000"/>
<rect x="1640" y="235" width="2" height="2" fill="#fff"/>
<rect x="5" y="265" width="1639" height="2" fill="#ff0000"/>
<rect x="4" y="263" width="6" height="6" fill="#ff0000"/>
<rect x="6" y="265" width="2" height="2" fill="#fff"/>
<rect x="1638" y="263" width="6" height="6" fill="#ff0000"/>
<rect x="1640" y="265" width="2" height="2" fill="#fff"/>
<rect x="5" y="301" width="1639" height="2" fill="#1ec81e"/>
<rect x="5" y="341" width="1639" height="2" fill="#0000ff"/>
<rect x="4" y="339" width="6" height="6" fill="#0000ff"/>
<rect x="6" y="341" width="2" height="2" fill="#fff"/>
<rect x="1638" y="339" width="6" height="6" fill="#0000ff"/>
<rect x="1640" y="341" width="2" height="2" fill="#fff"/>
<rect x="5" y="378" width="1639" height="2" fill="#0000ff"/>
<rect x="4" y="376" width="6" height="6" fill="#0000ff"/>
<rect x="6" y="378" width="2" height="2" fill="#fff"/>
<rect x="1638" y="376" width="6" height="6" fill="#0000ff"/>
<rect x="1640" y="378" width="2" height="2" fill="#fff"/>
</g>
<g shape-rendering="crispEdges">
<rect x="1646" y="303" width="41" height="11" fill="#000"/>
</g>
<text transform="matrix(0.94,0,0,1,1650,313)" fill="#fff" font-size="9.9">1.24229</text>
<g shape-rendering="crispEdges">
<rect x="1646" y="230" width="41" height="11" fill="#ff0000"/>
<rect x="1646" y="260" width="41" height="11" fill="#ff0000"/>
<rect x="1646" y="296" width="41" height="11" fill="#1ec81e"/>
<rect x="1646" y="336" width="41" height="11" fill="#0000ff"/>
<rect x="1646" y="373" width="41" height="11" fill="#0000ff"/>
</g>
<text transform="matrix(0.94,0,0,1,1650,240)" fill="#fff" font-size="9.9">1.24564</text>
<text transform="matrix(0.94,0,0,1,1650,270)" fill="#fff" font-size="9.9">1.24425</text>
<text transform="matrix(0.94,0,0,1,1650,306)" fill="#fff" font-size="9.9">1.24257</text>
<text transform="matrix(0.94,0,0,1,1650,346)" fill="#fff" font-size="9.9">1.24071</text>
<text transform="matrix(0.94,0,0,1,1650,383)" fill="#fff" font-size="9.9">1.23899</text>
<polygon points="1309.5,22 1319.5,22 1314.5,27.5" fill="#000"/>
<polygon points="8,28 15,28 11.5,32" fill="#000"/>
<text transform="matrix(0.94,0,0,1,20,33)" fill="#000" font-size="9.9" xml:space="preserve">GBPUSD-,H4  1.24248 1.24258 1.24208 1.24229</text>
<line x1="1264.5" y1="206.5" x2="1322" y2="250" stroke="#529e2e" stroke-width="3"/>
<polygon points="1335,260.5 1326.8,243 1316.3,256.5" fill="#529e2e"/>
<line x1="1223.5" y1="450.5" x2="1287" y2="421" stroke="#e8121c" stroke-width="2.6"/>
<polygon points="1302.2,415.5 1282.8,414.8 1289.6,430.6" fill="#e8121c"/>
<text transform="matrix(0.94,0,0,1,9,585)" fill="#000" font-size="9.9">MACD(12,26,9) -0.000284 0.000115</text>
<g shape-rendering="crispEdges">
<rect x="5" y="636" width="2" height="33" fill="#00ff00"/>
<rect x="20" y="636" width="3" height="37" fill="#00ff00"/>
<rect x="36" y="636" width="3" height="39" fill="#00ff00"/>
<rect x="52" y="636" width="3" height="41" fill="#00ff00"/>
<rect x="68" y="636" width="3" height="42" fill="#00ff00"/>
<rect x="84" y="636" width="3" height="39" fill="#00ff00"/>
<rect x="100" y="636" width="3" height="33" fill="#00ff00"/>
<rect x="116" y="636" width="3" height="30" fill="#00ff00"/>
<rect x="132" y="636" width="3" height="26" fill="#00ff00"/>
<rect x="148" y="636" width="3" height="22" fill="#00ff00"/>
<rect x="164" y="636" width="3" height="22" fill="#00ff00"/>
<rect x="180" y="636" width="3" height="19" fill="#00ff00"/>
<rect x="196" y="636" width="3" height="20" fill="#00ff00"/>
<rect x="212" y="636" width="3" height="20" fill="#00ff00"/>
<rect x="228" y="636" width="3" height="20" fill="#00ff00"/>
<rect x="244" y="636" width="3" height="19" fill="#00ff00"/>
<rect x="260" y="636" width="3" height="20" fill="#00ff00"/>
<rect x="276" y="636" width="3" height="25" fill="#00ff00"/>
<rect x="292" y="636" width="3" height="24" fill="#00ff00"/>
<rect x="308" y="636" width="3" height="24" fill="#00ff00"/>
<rect x="324" y="636" width="3" height="24" fill="#00ff00"/>
<rect x="340" y="636" width="3" height="20" fill="#00ff00"/>
<rect x="356" y="636" width="3" height="20" fill="#00ff00"/>
<rect x="372" y="636" width="3" height="21" fill="#00ff00"/>
<rect x="388" y="636" width="3" height="27" fill="#00ff00"/>
<rect x="404" y="636" width="3" height="30" fill="#00ff00"/>
<rect x="420" y="636" width="3" height="32" fill="#00ff00"/>
<rect x="436" y="636" width="3" height="36" fill="#00ff00"/>
<rect x="452" y="636" width="3" height="37" fill="#00ff00"/>
<rect x="468" y="636" width="3" height="37" fill="#00ff00"/>
<rect x="484" y="636" width="3" height="40" fill="#00ff00"/>
<rect x="500" y="636" width="3" height="43" fill="#00ff00"/>
<rect x="516" y="636" width="3" height="45" fill="#00ff00"/>
<rect x="532" y="636" width="3" height="45" fill="#00ff00"/>
<rect x="548" y="636" width="3" height="42" fill="#00ff00"/>
<rect x="564" y="636" width="3" height="35" fill="#00ff00"/>
<rect x="580" y="636" width="3" height="34" fill="#00ff00"/>
<rect x="596" y="636" width="3" height="32" fill="#00ff00"/>
<rect x="612" y="636" width="3" height="31" fill="#00ff00"/>
<rect x="628" y="636" width="3" height="29" fill="#00ff00"/>
<rect x="644" y="636" width="3" height="28" fill="#00ff00"/>
<rect x="660" y="636" width="3" height="28" fill="#00ff00"/>
<rect x="676" y="636" width="3" height="24" fill="#00ff00"/>
<rect x="692" y="636" width="3" height="22" fill="#00ff00"/>
<rect x="708" y="636" width="3" height="21" fill="#00ff00"/>
<rect x="724" y="636" width="3" height="19" fill="#00ff00"/>
<rect x="740" y="636" width="3" height="18" fill="#00ff00"/>
<rect x="756" y="636" width="3" height="7" fill="#00ff00"/>
<rect x="772" y="636" width="3" height="2" fill="#00ff00"/>
<rect x="788" y="633" width="3" height="3" fill="#00ff00"/>
<rect x="804" y="629" width="3" height="7" fill="#00ff00"/>
<rect x="820" y="629" width="3" height="7" fill="#00ff00"/>
<rect x="836" y="632" width="3" height="4" fill="#00ff00"/>
<rect x="852" y="634" width="3" height="2" fill="#00ff00"/>
<rect x="868" y="632" width="3" height="4" fill="#00ff00"/>
<rect x="884" y="626" width="3" height="10" fill="#00ff00"/>
<rect x="900" y="620" width="3" height="16" fill="#00ff00"/>
<rect x="916" y="618" width="3" height="18" fill="#00ff00"/>
<rect x="932" y="618" width="3" height="18" fill="#00ff00"/>
<rect x="948" y="612" width="3" height="24" fill="#00ff00"/>
<rect x="964" y="600" width="3" height="36" fill="#00ff00"/>
<rect x="980" y="592" width="3" height="44" fill="#00ff00"/>
<rect x="996" y="586" width="3" height="50" fill="#00ff00"/>
<rect x="1012" y="581" width="3" height="55" fill="#00ff00"/>
<rect x="1028" y="579" width="3" height="57" fill="#00ff00"/>
<rect x="1044" y="579" width="3" height="57" fill="#00ff00"/>
<rect x="1060" y="585" width="3" height="51" fill="#00ff00"/>
<rect x="1076" y="592" width="3" height="44" fill="#00ff00"/>
<rect x="1092" y="601" width="3" height="35" fill="#00ff00"/>
<rect x="1108" y="607" width="3" height="29" fill="#00ff00"/>
<rect x="1124" y="617" width="3" height="19" fill="#00ff00"/>
<rect x="1140" y="626" width="3" height="10" fill="#00ff00"/>
<rect x="1156" y="628" width="3" height="8" fill="#00ff00"/>
<rect x="1172" y="630" width="3" height="6" fill="#00ff00"/>
<rect x="1188" y="631" width="3" height="5" fill="#00ff00"/>
<rect x="1204" y="632" width="3" height="4" fill="#00ff00"/>
<rect x="1220" y="633" width="3" height="3" fill="#00ff00"/>
<rect x="1236" y="636" width="3" height="2" fill="#00ff00"/>
<rect x="1252" y="636" width="3" height="4" fill="#00ff00"/>
<rect x="1268" y="636" width="3" height="4" fill="#00ff00"/>
<rect x="1284" y="636" width="3" height="5" fill="#00ff00"/>
<polyline points="5,664.6 21,665.6 37,666.7 53,667.8 69,668.5 85,670.2 101,670.9 117,670.9 133,670.9 149,669.8 165,668.8 181,666.7 197,663.9 213,661.4 229,660.0 245,659.0 261,658.0 277,656.5 293,656.0 309,656.0 325,656.5 341,656.5 357,657.7 373,658.0 389,658.8 405,659.5 421,660.0 437,660.9 453,662.5 469,663.9 485,665.7 501,668.8 517,670.9 533,672.6 549,674.8 565,675.0 581,675.0 597,674.0 613,674.0 629,672.6 645,671.2 661,669.5 677,667.4 693,664.2 709,663.5 725,661.1 741,659.7 757,657.2 773,654.2 789,650.7 805,647.2 821,643.7 837,640.9 853,638.6 869,636.3 885,634.0 901,630.5 917,628.4 933,626.3 949,624.2 965,621.4 981,617.7 997,612.4 1013,606.5 1029,601.5 1045,596.7 1061,592.2 1077,590.1 1093,589.1 1109,589.1 1125,592.2 1141,595.7 1157,602.4 1173,606.8 1189,612.4 1205,617.3 1221,621.4 1237,625.6 1253,629.1 1269,632.2 1285,634.0" fill="none" stroke="#ff0000" stroke-width="2"/>
<rect x="1645" y="574" width="2" height="1" fill="#000"/>
<rect x="1645" y="636" width="2" height="1" fill="#000"/>
</g>
<text transform="matrix(0.94,0,0,1,1648,583)" fill="#000" font-size="9.9">0.004454</text>
<text transform="matrix(0.94,0,0,1,1648,639)" fill="#000" font-size="9.9">0.00</text>
<text transform="matrix(0.94,0,0,1,1648,683)" fill="#000" font-size="9.9">-0.003533</text>
<text transform="matrix(0.94,0,0,1,9,701)" fill="#000" font-size="9.9">RSI(14) 48.2774</text>
<g shape-rendering="crispEdges">
<line x1="6" y1="713.5" x2="1643" y2="713.5" stroke="#000" stroke-width="1" stroke-dasharray="3,3"/>
<line x1="6" y1="749.5" x2="1643" y2="749.5" stroke="#000" stroke-width="1" stroke-dasharray="3,3"/>
<line x1="6" y1="791.5" x2="1643" y2="791.5" stroke="#000" stroke-width="1" stroke-dasharray="3,3"/>
<polyline points="5,768.9 21,770.0 37,770.2 53,770.9 69,770.0 85,755.9 101,752.0 117,753.6 133,751.8 149,750.7 165,757.9 181,749.4 197,758.8 213,756.2 229,755.9 245,755.9 261,763.1 277,767.0 293,757.0 309,757.9 325,756.6 341,753.6 357,757.2 373,759.8 389,767.0 405,766.8 421,764.6 437,770.2 453,765.0 469,763.1 485,770.2 501,770.2 517,770.9 533,766.3 549,759.8 565,748.8 581,758.8 597,757.0 613,757.0 629,757.2 645,757.9 661,757.9 677,753.0 693,753.0 709,755.9 725,755.9 741,753.7 757,732.8 773,741.9 789,741.4 805,741.4 821,746.8 837,753.0 853,753.0 869,744.9 885,737.0 901,735.8 917,739.0 933,744.9 949,732.5 965,727.0 981,727.3 997,727.7 1013,727.0 1029,731.0 1045,731.0 1061,745.8 1077,748.1 1093,752.7 1109,752.0 1125,758.8 1141,760.5 1157,750.0 1173,750.7 1189,750.7 1205,748.8 1221,749.7 1237,756.6 1253,753.3 1269,751.8 1285,751.8" fill="none" stroke="#1e90ff" stroke-width="2"/>
<rect x="1645" y="689" width="2" height="1" fill="#000"/>
</g>
<text transform="matrix(0.94,0,0,1,1648,698)" fill="#000" font-size="9.9">100</text>
<text transform="matrix(0.94,0,0,1,1647,717)" fill="#000" font-size="9.9">80</text>
<text transform="matrix(0.94,0,0,1,1647,753)" fill="#000" font-size="9.9">50</text>
<text transform="matrix(0.94,0,0,1,1647,795)" fill="#000" font-size="9.9">15</text>
<text transform="matrix(0.94,0,0,1,1648,806)" fill="#000" font-size="9.9">0</text>
<g shape-rendering="crispEdges">
<rect x="5" y="811" width="1" height="3" fill="#000"/>
<rect x="69" y="811" width="1" height="3" fill="#000"/>
<rect x="133" y="811" width="1" height="3" fill="#000"/>
<rect x="197" y="811" width="1" height="3" fill="#000"/>
<rect x="261" y="811" width="1" height="3" fill="#000"/>
<rect x="325" y="811" width="1" height="3" fill="#000"/>
<rect x="389" y="811" width="1" height="3" fill="#000"/>
<rect x="453" y="811" width="1" height="3" fill="#000"/>
<rect x="517" y="811" width="1" height="3" fill="#000"/>
<rect x="581" y="811" width="1" height="3" fill="#000"/>
<rect x="645" y="811" width="1" height="3" fill="#000"/>
<rect x="709" y="811" width="1" height="3" fill="#000"/>
<rect x="773" y="811" width="1" height="3" fill="#000"/>
<rect x="837" y="811" width="1" height="3" fill="#000"/>
<rect x="901" y="811" width="1" height="3" fill="#000"/>
<rect x="965" y="811" width="1" height="3" fill="#000"/>
<rect x="1029" y="811" width="1" height="3" fill="#000"/>
<rect x="1093" y="811" width="1" height="3" fill="#000"/>
<rect x="1157" y="811" width="1" height="3" fill="#000"/>
<rect x="1221" y="811" width="1" height="3" fill="#000"/>
<rect x="1285" y="811" width="1" height="3" fill="#000"/>
</g>
<text transform="matrix(0.94,0,0,1,4.4,823)" fill="#000" font-size="9.9">18 May 2023</text>
<text transform="matrix(0.94,0,0,1,68.4,823)" fill="#000" font-size="9.9">19 May 04:00</text>
<text transform="matrix(0.94,0,0,1,132.4,823)" fill="#000" font-size="9.9">21 May 23:00</text>
<text transform="matrix(0.94,0,0,1,196.4,823)" fill="#000" font-size="9.9">22 May 12:00</text>
<text transform="matrix(0.94,0,0,1,260.4,823)" fill="#000" font-size="9.9">23 May 04:00</text>
<text transform="matrix(0.94,0,0,1,324.4,823)" fill="#000" font-size="9.9">23 May 20:00</text>
<text transform="matrix(0.94,0,0,1,388.4,823)" fill="#000" font-size="9.9">24 May 12:00</text>
<text transform="matrix(0.94,0,0,1,452.4,823)" fill="#000" font-size="9.9">25 May 04:00</text>
<text transform="matrix(0.94,0,0,1,516.4,823)" fill="#000" font-size="9.9">25 May 20:00</text>
<text transform="matrix(0.94,0,0,1,580.4,823)" fill="#000" font-size="9.9">26 May 12:00</text>
<text transform="matrix(0.94,0,0,1,644.4,823)" fill="#000" font-size="9.9">29 May 04:00</text>
<text transform="matrix(0.94,0,0,1,708.4,823)" fill="#000" font-size="9.9">29 May 20:00</text>
<text transform="matrix(0.94,0,0,1,772.4,823)" fill="#000" font-size="9.9">30 May 12:00</text>
<text transform="matrix(0.94,0,0,1,836.4,823)" fill="#000" font-size="9.9">31 May 04:00</text>
<text transform="matrix(0.94,0,0,1,900.4,823)" fill="#000" font-size="9.9">31 May 20:00</text>
<text transform="matrix(0.94,0,0,1,964.4,823)" fill="#000" font-size="9.9">1 Jun 12:00</text>
<text transform="matrix(0.94,0,0,1,1028.4,823)" fill="#000" font-size="9.9">2 Jun 04:00</text>
<text transform="matrix(0.94,0,0,1,1092.4,823)" fill="#000" font-size="9.9">4 Jun 23:00</text>
<text transform="matrix(0.94,0,0,1,1156.4,823)" fill="#000" font-size="9.9">5 Jun 12:00</text>
<text transform="matrix(0.94,0,0,1,1220.4,823)" fill="#000" font-size="9.9">6 Jun 04:00</text>
<text transform="matrix(0.94,0,0,1,1284.4,823)" fill="#000" font-size="9.9">6 Jun 20:00</text>
</svg></body></html>
